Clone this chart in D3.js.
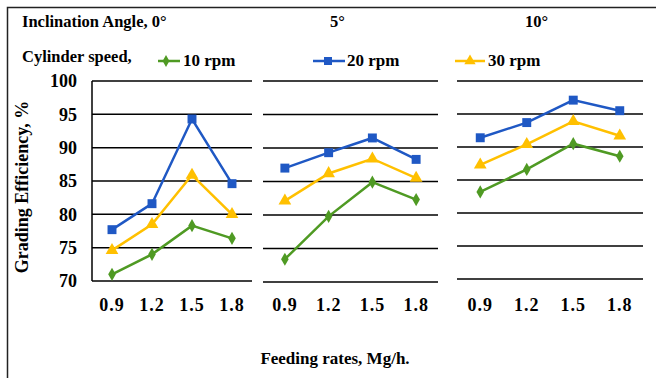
<!DOCTYPE html>
<html>
<head>
<meta charset="utf-8">
<script src="https://cdn.jsdelivr.net/npm/d3@7.9.0/dist/d3.min.js"></script>
<style>
  body { margin: 0; background: #fff; }
  svg text { font-family: "Liberation Serif", "Times New Roman", serif; font-weight: bold; fill: #000; }
</style>
</head>
<body>
<div id="chart"></div>
<script>
// Data
const feedRates = ["0.9", "1.2", "1.5", "1.8"];
const angles = ["0°", "5°", "10°"];
const yTicks = [70, 75, 80, 85, 90, 95, 100];

const rpm10 = [
  [71.0, 74.0, 78.3, 76.4],
  [73.4, 79.8, 84.9, 82.3],
  [83.2, 86.6, 90.5, 88.6],
];
const rpm20 = [
  [77.7, 81.6, 94.3, 84.6],
  [87.0, 89.3, 91.5, 88.3],
  [91.4, 93.7, 97.1, 95.5],
];
const rpm30 = [
  [74.6, 78.5, 85.9, 80.0],
  [82.1, 86.2, 88.4, 85.5],
  [87.3, 90.4, 93.9, 91.7],
];

const series = [
  { name: "10 rpm", values: rpm10, color: "#4f9a23", symbol: d3.symbolDiamond, size: 50 },
  { name: "20 rpm", values: rpm20, color: "#1f58c4", symbol: d3.symbolSquare, size: 80 },
  { name: "30 rpm", values: rpm30, color: "#ffc000", symbol: d3.symbolTriangle, size: 70 },
];

const width = 656, height = 378;

// panel geometry
const panels = [
  { x0: 92, x1: 252, yb: 281, axis: true },
  { x0: 263, x1: 438, yb: 282, axis: false },
  { x0: 457, x1: 643, yb: 279, axis: false },
];
const yTop = 81;

const svg = d3.select("#chart").append("svg")
  .attr("width", width)
  .attr("height", height);

// outer frame (only left and top visible)
svg.append("path")
  .attr("d", `M7.5,${height} V7.5 H${width}`)
  .attr("fill", "none")
  .attr("stroke", "#222")
  .attr("stroke-width", 1.5);

panels.forEach((p, i) => {
  const x = d3.scalePoint().domain(feedRates).range([p.x0, p.x1]).padding(0.5);
  const y = d3.scaleLinear().domain([70, 100]).range([p.yb, yTop]);
  const g = svg.append("g");

  // gridlines
  g.append("g")
    .selectAll("line")
    .data(yTicks)
    .join("line")
    .attr("x1", p.x0)
    .attr("x2", p.x1)
    .attr("y1", (d) => y(d))
    .attr("y2", (d) => y(d))
    .attr("stroke", "#000")
    .attr("stroke-width", 1.5);

  if (p.axis) {
    g.append("line")
      .attr("x1", p.x0).attr("x2", p.x0)
      .attr("y1", y(100)).attr("y2", y(70))
      .attr("stroke", "#000").attr("stroke-width", 1.5);
    g.append("g")
      .selectAll("text")
      .data(yTicks)
      .join("text")
      .attr("x", 77)
      .attr("y", (d) => y(d))
      .attr("dy", "0.35em")
      .attr("text-anchor", "end")
      .style("font-size", "18px")
      .text((d) => d);
  }

  // x tick labels
  g.append("g")
    .selectAll("text")
    .data(feedRates)
    .join("text")
    .attr("x", (d) => x(d))
    .attr("y", 311)
    .attr("text-anchor", "middle")
    .style("font-size", "18px")
    .style("letter-spacing", "1px")
    .text((d) => d);

  const line = d3.line().x((d, j) => x(feedRates[j])).y((d) => y(d));

  series.forEach((s) => {
    const vals = s.values[i];
    g.append("path")
      .datum(vals)
      .attr("d", line)
      .attr("fill", "none")
      .attr("stroke", s.color)
      .attr("stroke-width", 2.5);
    g.append("g")
      .selectAll("path")
      .data(vals)
      .join("path")
      .attr("transform", (d, j) => `translate(${x(feedRates[j])},${y(d)})`)
      .attr("d", d3.symbol().type(s.symbol).size(s.size))
      .attr("fill", s.color);
  });
});

// headings
svg.append("text").attr("x", 22).attr("y", 27).style("font-size", "16.5px").text("Inclination Angle, " + angles[0]);
svg.append("text").attr("x", 330).attr("y", 27).style("font-size", "16.5px").text(angles[1]);
svg.append("text").attr("x", 525).attr("y", 27).style("font-size", "16.5px").text(angles[2]);
svg.append("text").attr("x", 22).attr("y", 62).style("font-size", "16.5px").text("Cylinder speed,");

// legend
const legendPos = [
  { x0: 158, x1: 180, m: 166, tx: 183 },
  { x0: 313, x1: 345, m: 328, tx: 347 },
  { x0: 455, x1: 485, m: 470, tx: 488 },
];
series.forEach((s, i) => {
  const lp = legendPos[i];
  const lg = svg.append("g");
  lg.append("line")
    .attr("x1", lp.x0).attr("x2", lp.x1)
    .attr("y1", 61).attr("y2", 61)
    .attr("stroke", s.color).attr("stroke-width", 2.5);
  lg.append("path")
    .attr("transform", `translate(${lp.m},61)`)
    .attr("d", d3.symbol().type(s.symbol).size(s.size * 0.8))
    .attr("fill", s.color);
  lg.append("text")
    .attr("x", lp.tx).attr("y", 66)
    .style("font-size", "17px")
    .text(s.name);
});

// axis titles
svg.append("text")
  .attr("transform", "translate(28,187) rotate(-90)")
  .attr("text-anchor", "middle")
  .style("font-size", "18px")
  .text("Grading Efficiency, %");

svg.append("text")
  .attr("x", 335).attr("y", 364)
  .attr("text-anchor", "middle")
  .style("font-size", "17px")
  .text("Feeding rates, Mg/h.");
</script>
</body>
</html>
